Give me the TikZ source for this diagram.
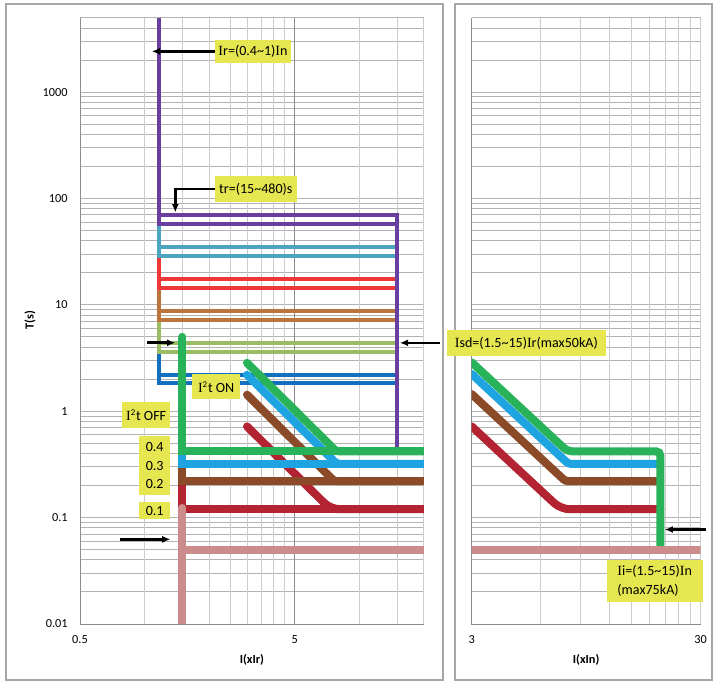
\documentclass[tikz,border=0pt]{standalone}
\usepackage{fontspec}
\setmainfont{Carlito}
\newfontfamily\serifI{Liberation Serif}
\newcommand{\sI}{{\serifI I}}
\newcommand{\tld}{\textasciitilde}
\usepackage{tikz}
\usetikzlibrary{arrows.meta,positioning}
\definecolor{trpurple}{RGB}{104,62,160}
\definecolor{trteal}{RGB}{75,165,190}
\definecolor{trred}{RGB}{240,55,55}
\definecolor{trorange}{RGB}{186,116,60}
\definecolor{trlime}{RGB}{155,187,100}
\definecolor{trblue}{RGB}{20,112,190}
\definecolor{sdgreen}{RGB}{40,178,90}
\definecolor{sdcyan}{RGB}{30,165,225}
\definecolor{sdbrown}{RGB}{140,75,40}
\definecolor{sdred}{RGB}{180,35,50}
\definecolor{instpink}{RGB}{205,140,140}
\definecolor{notehl}{RGB}{230,230,80}
\tikzset{>=latex,
    chartframe/.style={draw=black!35, line width=0.9pt},
    gridh/.style={draw=black!30, line width=0.55pt},
    gridv/.style={draw=black!20, line width=0.55pt},
    axisline/.style={draw=black!45, line width=0.55pt},
    thincurve/.style={line width=2.2pt},
    thickcurve/.style={line width=4.6pt, line cap=round},
    note/.style={fill=notehl, inner sep=0pt, font=\fontsize{8}{10.5}\selectfont},
    ticklab/.style={inner sep=0pt, font=\fontsize{7}{8}\selectfont},
    axlab/.style={inner sep=0pt, font=\fontsize{7}{8}\selectfont\bfseries},
    pointer/.style={-{Latex[length=4.7pt,width=4pt]}, line width=1.5pt}}
\newcommand{\sq}{\textsuperscript{\fontsize{5}{5}\selectfont 2}}

\begin{document}
\begin{tikzpicture}[x=0.02cm, y=0.02cm,
    declare function={xl(\cur)=log10(\cur/0.5); xr(\cur)=log10(\cur/3); ty(\tim)=log10(\tim)+2;}]
  \useasboundingbox (0,0) rectangle (713,682);
  \draw[chartframe] (6,2) rectangle (443,678);
  \draw[chartframe] (455,2) rectangle (712,678);
  \node[axlab, rotate=90] (ylab) at (30,361.5) {T(s)};

  % left chart, I in multiples of Ir
  \begin{scope}[shift={(80,58)}, x=4.294cm, y=2.128cm]
    \foreach \e in {0,...,4} \foreach \k in {1,...,9}
      \draw[gridh] (0,{\e+log10(\k)}) -- ({xl(20)},{\e+log10(\k)});
    \foreach \k in {1,...,5}
      \draw[gridh] (0,{5+log10(\k)}) -- ({xl(20)},{5+log10(\k)});
    \foreach \i in {1,1.5,2,2.5,3,3.5,4,4.5,10,15,20}
      \draw[gridv] ({xl(\i)},0) -- ({xl(\i)},{ty(5000)});
    \draw[axisline] ({xl(5)},0) -- ({xl(5)},{ty(5000)});
    \draw[axisline] (0,{ty(5000)}) -- (0,0) -- ({xl(20)},0);
    \begin{scope}
      \clip (0,0) rectangle ({xl(20)},{ty(5000)});
      % long delay bands, shortest first
      \foreach \col/\lo/\hi in {trblue/1.83/2.19, trlime/3.6/4.4, trorange/7.2/8.75, trred/14.4/17.5, trteal/28.7/35} {
        \draw[thincurve, \col] ({xl(1.17)},{ty(5000)}) -- ({xl(1.17)},{ty(\lo)}) -- ({xl(15)},{ty(\lo)});
        \draw[thincurve, \col] ({xl(1.17)},{ty(\hi)}) -- ({xl(15)},{ty(\hi)});
      }
      \draw[thincurve, trpurple] ({xl(1.17)},{ty(5000)}) -- ({xl(1.17)},{ty(58)}) -- ({xl(15)},{ty(58)});
      \draw[thincurve, trpurple] ({xl(1.17)},{ty(70)}) -- ({xl(15)},{ty(70)}) -- ({xl(15)},{ty(0.46)});
      % short delay, I2t off and on
      \foreach \col/\up/\ts/\tf/\rc in {sdred/0.22/0.72/0.12/5pt, sdbrown/0.32/1.43/0.22/1.5pt, sdcyan/0.42/2.2/0.32/1.5pt, sdgreen/5/2.85/0.42/1.5pt} {
        \draw[thickcurve, \col] ({xl(1.5)},{ty(\up)}) -- ({xl(1.5)},{ty(\tf)}) -- ({xl(20)},{ty(\tf)});
        \draw[thickcurve, \col, rounded corners=\rc] ({xl(3)},{ty(\ts)}) -- ({xl(3*sqrt(\ts/\tf))},{ty(\tf)}) -- ({xl(20)},{ty(\tf)});
      }
      \draw[thickcurve, instpink] ({xl(1.5)},{ty(0.123)}) -- ({xl(1.5)},{ty(0.008)});
      \draw[thickcurve, instpink] ({xl(1.5)},{ty(0.05)}) -- ({xl(20)},{ty(0.05)});
    \end{scope}
    \coordinate (irtip) at ({xl(1.08)},{ty(2400)});
    \coordinate (trtip) at ({xl(1.39)},{ty(74)});
    \coordinate (sdlotail) at ({xl(1.03)},{ty(4.4)});
    \coordinate (sdlotip) at ({xl(1.39)},{ty(4.4)});
    \coordinate (sdhitip) at ({xl(15.45)},{ty(4.4)});
    \coordinate (ilotail) at ({xl(0.767)},{ty(0.0625)});
    \coordinate (ilotip) at ({xl(1.32)},{ty(0.0625)});
    \foreach \e/\lab in {0/0.01,1/0.1,2/1,3/10,4/100,5/1000}
      \node[ticklab, anchor=east, xshift=-0.24cm] (yt\e) at (0,\e) {\lab};
    \node[ticklab, yshift=-0.32cm] (xt0) at ({xl(0.5)},0) {0.5};
    \node[ticklab, yshift=-0.32cm] (xt5) at ({xl(5)},0) {5};
    \node[axlab, yshift=-0.72cm] (xlabL) at ({xl(20)/2},0) {I(xIr)};
  \end{scope}

  % right chart, I in multiples of In
  \begin{scope}[shift={(471.7,58)}, x=4.58cm, y=2.128cm]
    \foreach \e in {0,...,4} \foreach \k in {1,...,9}
      \draw[gridh] (0,{\e+log10(\k)}) -- ({xr(30)},{\e+log10(\k)});
    \foreach \k in {1,...,5}
      \draw[gridh] (0,{5+log10(\k)}) -- ({xr(30)},{5+log10(\k)});
    \foreach \i in {6,9,...,30}
      \draw[gridv] ({xr(\i)},0) -- ({xr(\i)},{ty(5000)});
    \draw[axisline] (0,{ty(5000)}) -- (0,0) -- ({xr(30)},0);
    \begin{scope}
      \clip (0,0) rectangle ({xr(30)},{ty(5000)});
      \foreach \col/\ts/\tf/\rc in {sdred/0.72/0.12/5pt, sdbrown/1.45/0.22/1.5pt, sdcyan/2.24/0.32/1.5pt}
        \draw[thickcurve, \col, rounded corners=\rc] ({xr(3)},{ty(\ts)}) -- ({xr(3*sqrt(\ts/\tf))},{ty(\tf)}) -- ({xr(20)},{ty(\tf)});
      \draw[thickcurve, sdgreen, rounded corners=2.5pt] ({xr(3)},{ty(2.88)}) -- ({xr(3*sqrt(2.88/0.42))},{ty(0.42)}) -- ({xr(20)},{ty(0.42)}) -- ({xr(20)},{ty(0.055)});
      \draw[thickcurve, instpink] ({xr(2.9)},{ty(0.05)}) -- ({xr(31)},{ty(0.05)});
    \end{scope}
    \coordinate (ihitail) at ({xr(31.6)},{ty(0.0765)});
    \coordinate (ihitip) at ({xr(20.9)},{ty(0.0765)});
    \node[ticklab, yshift=-0.32cm] (xt3) at ({xr(3)},0) {3};
    \node[ticklab, yshift=-0.32cm] (xt30) at ({xr(30)},0) {30};
    \node[axlab, yshift=-0.72cm] (xlabR) at ({xr(30)/2},0) {I(xIn)};
  \end{scope}

  % setting notes
  \node[note, minimum width=1.52cm, minimum height=0.454cm] (ir) at (253,630.65) {\sI r=(0.4\tld 1)\sI n};
  \node[note, minimum width=1.634cm, minimum height=0.514cm] (tr) at (255.85,493.15) {tr=(15\tld 480)s};
  \node[note, minimum width=3.174cm, minimum height=0.514cm] (isd) at (526.35,339.15) {\sI sd=(1.5\tld 15)\sI r(max50kA)};
  \node[note, minimum width=1.92cm, minimum height=0.834cm, align=left] (ii) at (654.7,101.15) {\sI i=(1.5\tld 15)\sI n\\(max75kA)};
  \node[note, minimum width=0.954cm, minimum height=0.5cm] (i2ton) at (216.15,295.2) {\sI\sq t ON};
  \node[note, minimum width=0.954cm, minimum height=0.508cm] (i2toff) at (146.15,267) {\sI\sq t OFF};
  \node[note, minimum width=0.614cm, minimum height=1.18cm, align=center] (sdtimes) at (154.65,216.5) {0.4\\0.3\\0.2};
  \node[note, minimum width=0.614cm, minimum height=0.352cm] (sdmin) at (154.65,171.5) {0.1};

  \draw[pointer] (ir.west) -- (ir.west -| irtip);
  \draw[pointer] (tr.west) -| (trtip);
  \draw[pointer, shorten <=0.14cm] (isd.west) -- (isd.west -| sdhitip);
  \draw[pointer] (sdlotail) -- (sdlotip);
  \draw[pointer] (ilotail) -- (ilotip);
  \draw[pointer] (ihitail) -- (ihitip);
\end{tikzpicture}
\end{document}
